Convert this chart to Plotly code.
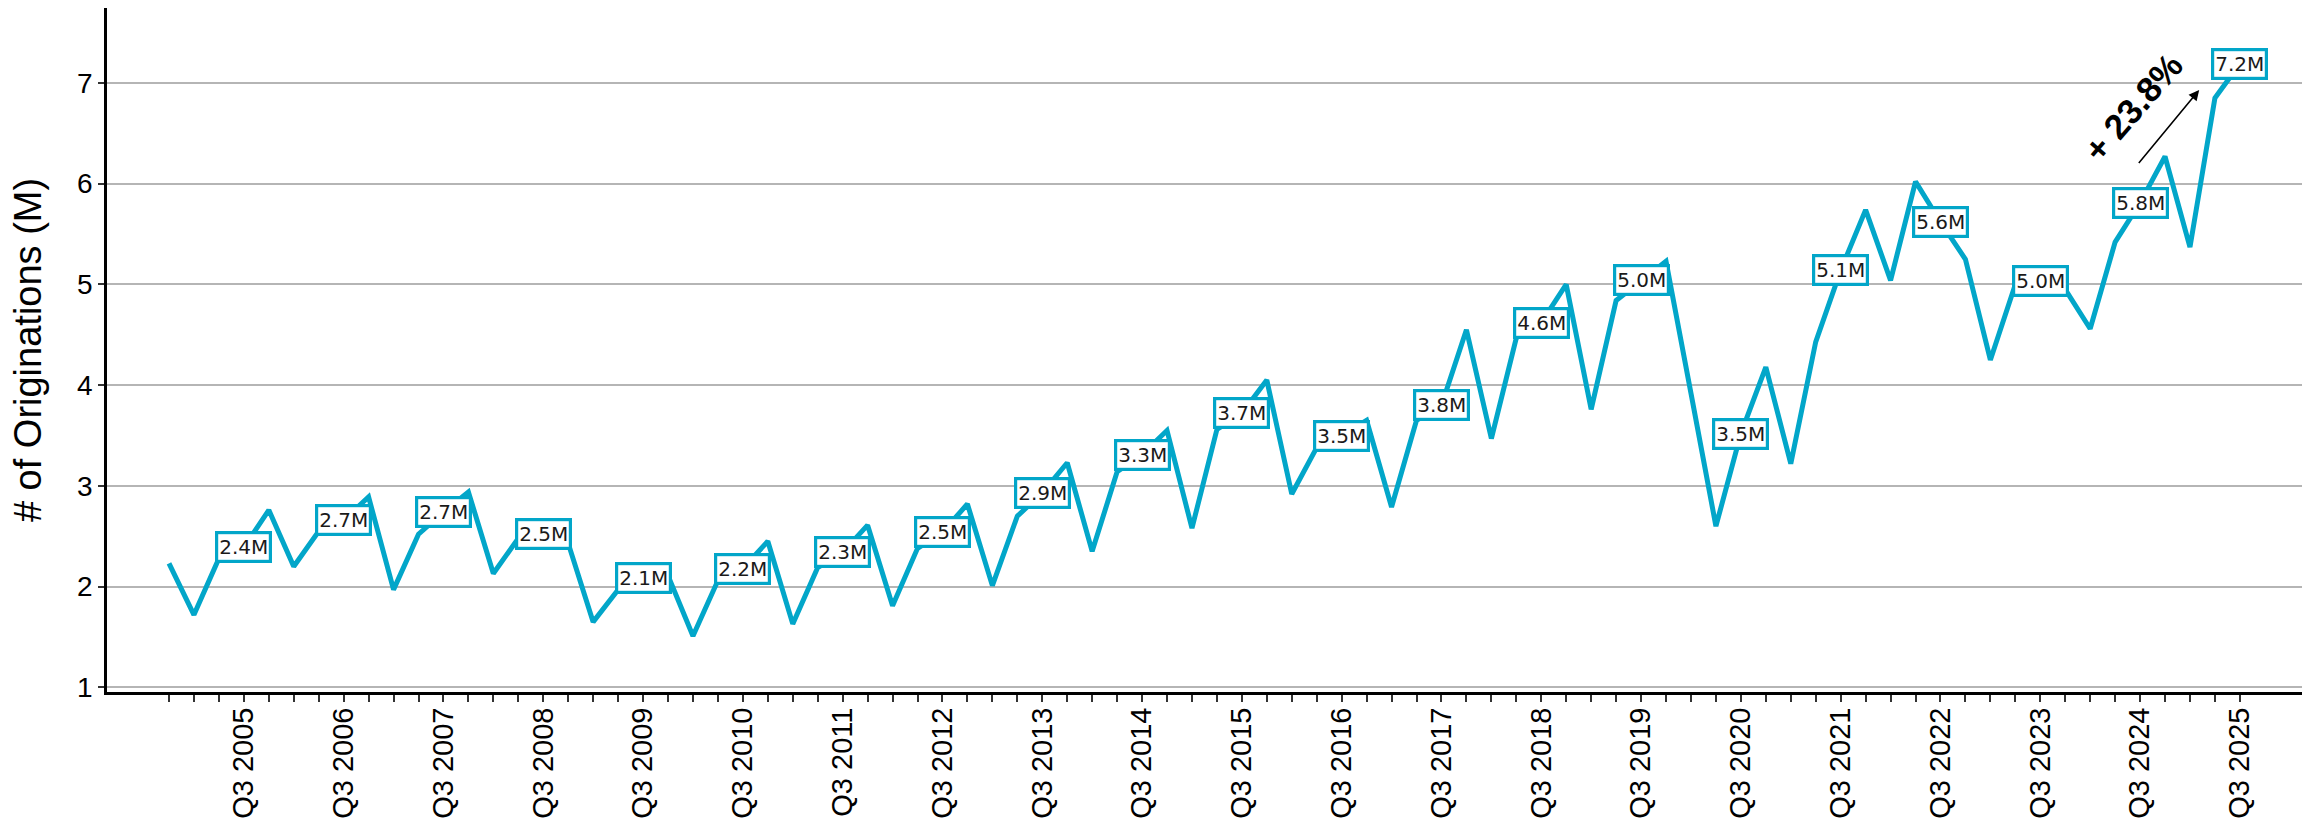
import plotly.graph_objects as go

# ---- data ----
quarters = ["Q4 2004"] + [f"Q{q} {y}" for y in range(2005, 2026) for q in (1, 2, 3, 4)]
quarters = quarters[:84]  # Q4 2004 .. Q3 2025

originations_m = [
    2.23,                      # Q4 2004
    1.72, 2.28, 2.39, 2.76,    # 2005
    2.20, 2.55, 2.66, 2.89,    # 2006
    1.97, 2.52, 2.74, 2.94,    # 2007
    2.13, 2.48, 2.52, 2.43,    # 2008
    1.65, 1.97, 2.09, 2.11,    # 2009
    1.51, 2.06, 2.18, 2.45,    # 2010
    1.63, 2.19, 2.34, 2.61,    # 2011
    1.81, 2.38, 2.54, 2.82,    # 2012
    2.01, 2.70, 2.93, 3.23,    # 2013
    2.35, 3.14, 3.31, 3.55,    # 2014
    2.58, 3.56, 3.72, 4.05,    # 2015
    2.92, 3.38, 3.50, 3.65,    # 2016
    2.79, 3.65, 3.80, 4.55,    # 2017
    3.47, 4.47, 4.62, 5.00,    # 2018
    3.76, 4.84, 5.04, 5.23,    # 2019
    3.92, 2.60, 3.52, 4.18,    # 2020
    3.22, 4.43, 5.14, 5.74,    # 2021
    5.04, 6.02, 5.62, 5.25,    # 2022
    4.25, 5.00, 5.03, 4.95,    # 2023
    4.56, 5.42, 5.81, 6.27,    # 2024
    5.37, 6.85, 7.19,          # 2025
]

tick_labels = [q if q.startswith("Q3") else "" for q in quarters]
y_ticks = [1, 2, 3, 4, 5, 6, 7]
growth_text = "+ 23.8%"

LINE = "#02A6C9"

fig = go.Figure()
fig.add_trace(go.Scatter(
    x=quarters, y=originations_m, mode="lines",
    line=dict(color=LINE, width=5), hoverinfo="skip", showlegend=False,
))

# value labels at each Q3
for q, v in zip(quarters, originations_m):
    if q.startswith("Q3"):
        fig.add_annotation(
            x=q, y=v, xref="x", yref="y", text=f"{v:.1f}M", showarrow=False,
            xanchor="center", yanchor="middle",
            font=dict(family="DejaVu Sans", size=20, color="#1a1a1a"),
            bgcolor="white", bordercolor=LINE, borderwidth=3.2, borderpad=1,
        )

# growth arrow + text
fig.add_annotation(
    x=81.37, y=6.93, ax=78.9, ay=6.19, xref="x", yref="y", axref="x", ayref="y",
    text="", showarrow=True, arrowhead=2, arrowsize=1.3, arrowwidth=1.6,
    arrowcolor="black", standoff=0, startstandoff=0,
)
fig.add_annotation(
    x=78.7, y=6.76, xref="x", yref="y", text=f"<b>{growth_text}</b>",
    showarrow=False, textangle=-49, xanchor="center", yanchor="middle",
    font=dict(family="Liberation Sans", size=35, color="black"),
)

fig.update_layout(
    width=2318, height=830,
    margin=dict(l=107, r=16, t=8, b=138),
    paper_bgcolor="white", plot_bgcolor="white",
    font=dict(family="Liberation Sans", color="black"),
    xaxis=dict(
        type="category", range=[-2.485, 85.49],
        tickmode="array", tickvals=quarters, ticktext=tick_labels,
        tickangle=-90, tickfont=dict(size=29, family="Liberation Sans"),
        ticks="outside", ticklen=7, tickwidth=1.5, tickcolor="#333",
        ticklabelstandoff=-6,
        showline=True, linecolor="black", linewidth=3,
        showgrid=False, zeroline=False, automargin=False,
    ),
    yaxis=dict(
        range=[0.954, 7.744], tickvals=y_ticks,
        tickfont=dict(size=28, family="Liberation Sans"),
        ticks="outside", ticklen=6, tickwidth=1.5, tickcolor="#333",
        showline=True, linecolor="black", linewidth=2.5,
        showgrid=True, gridcolor="#b5b5b5", gridwidth=1.5,
        zeroline=False, automargin=False,
        title=dict(text="# of Originations (M)", font=dict(size=38, family="Liberation Sans"), standoff=24),
    ),
)

fig.write_html("out.html", config={"displayModeBar": False},
               post_script="document.body.style.margin='0';")
